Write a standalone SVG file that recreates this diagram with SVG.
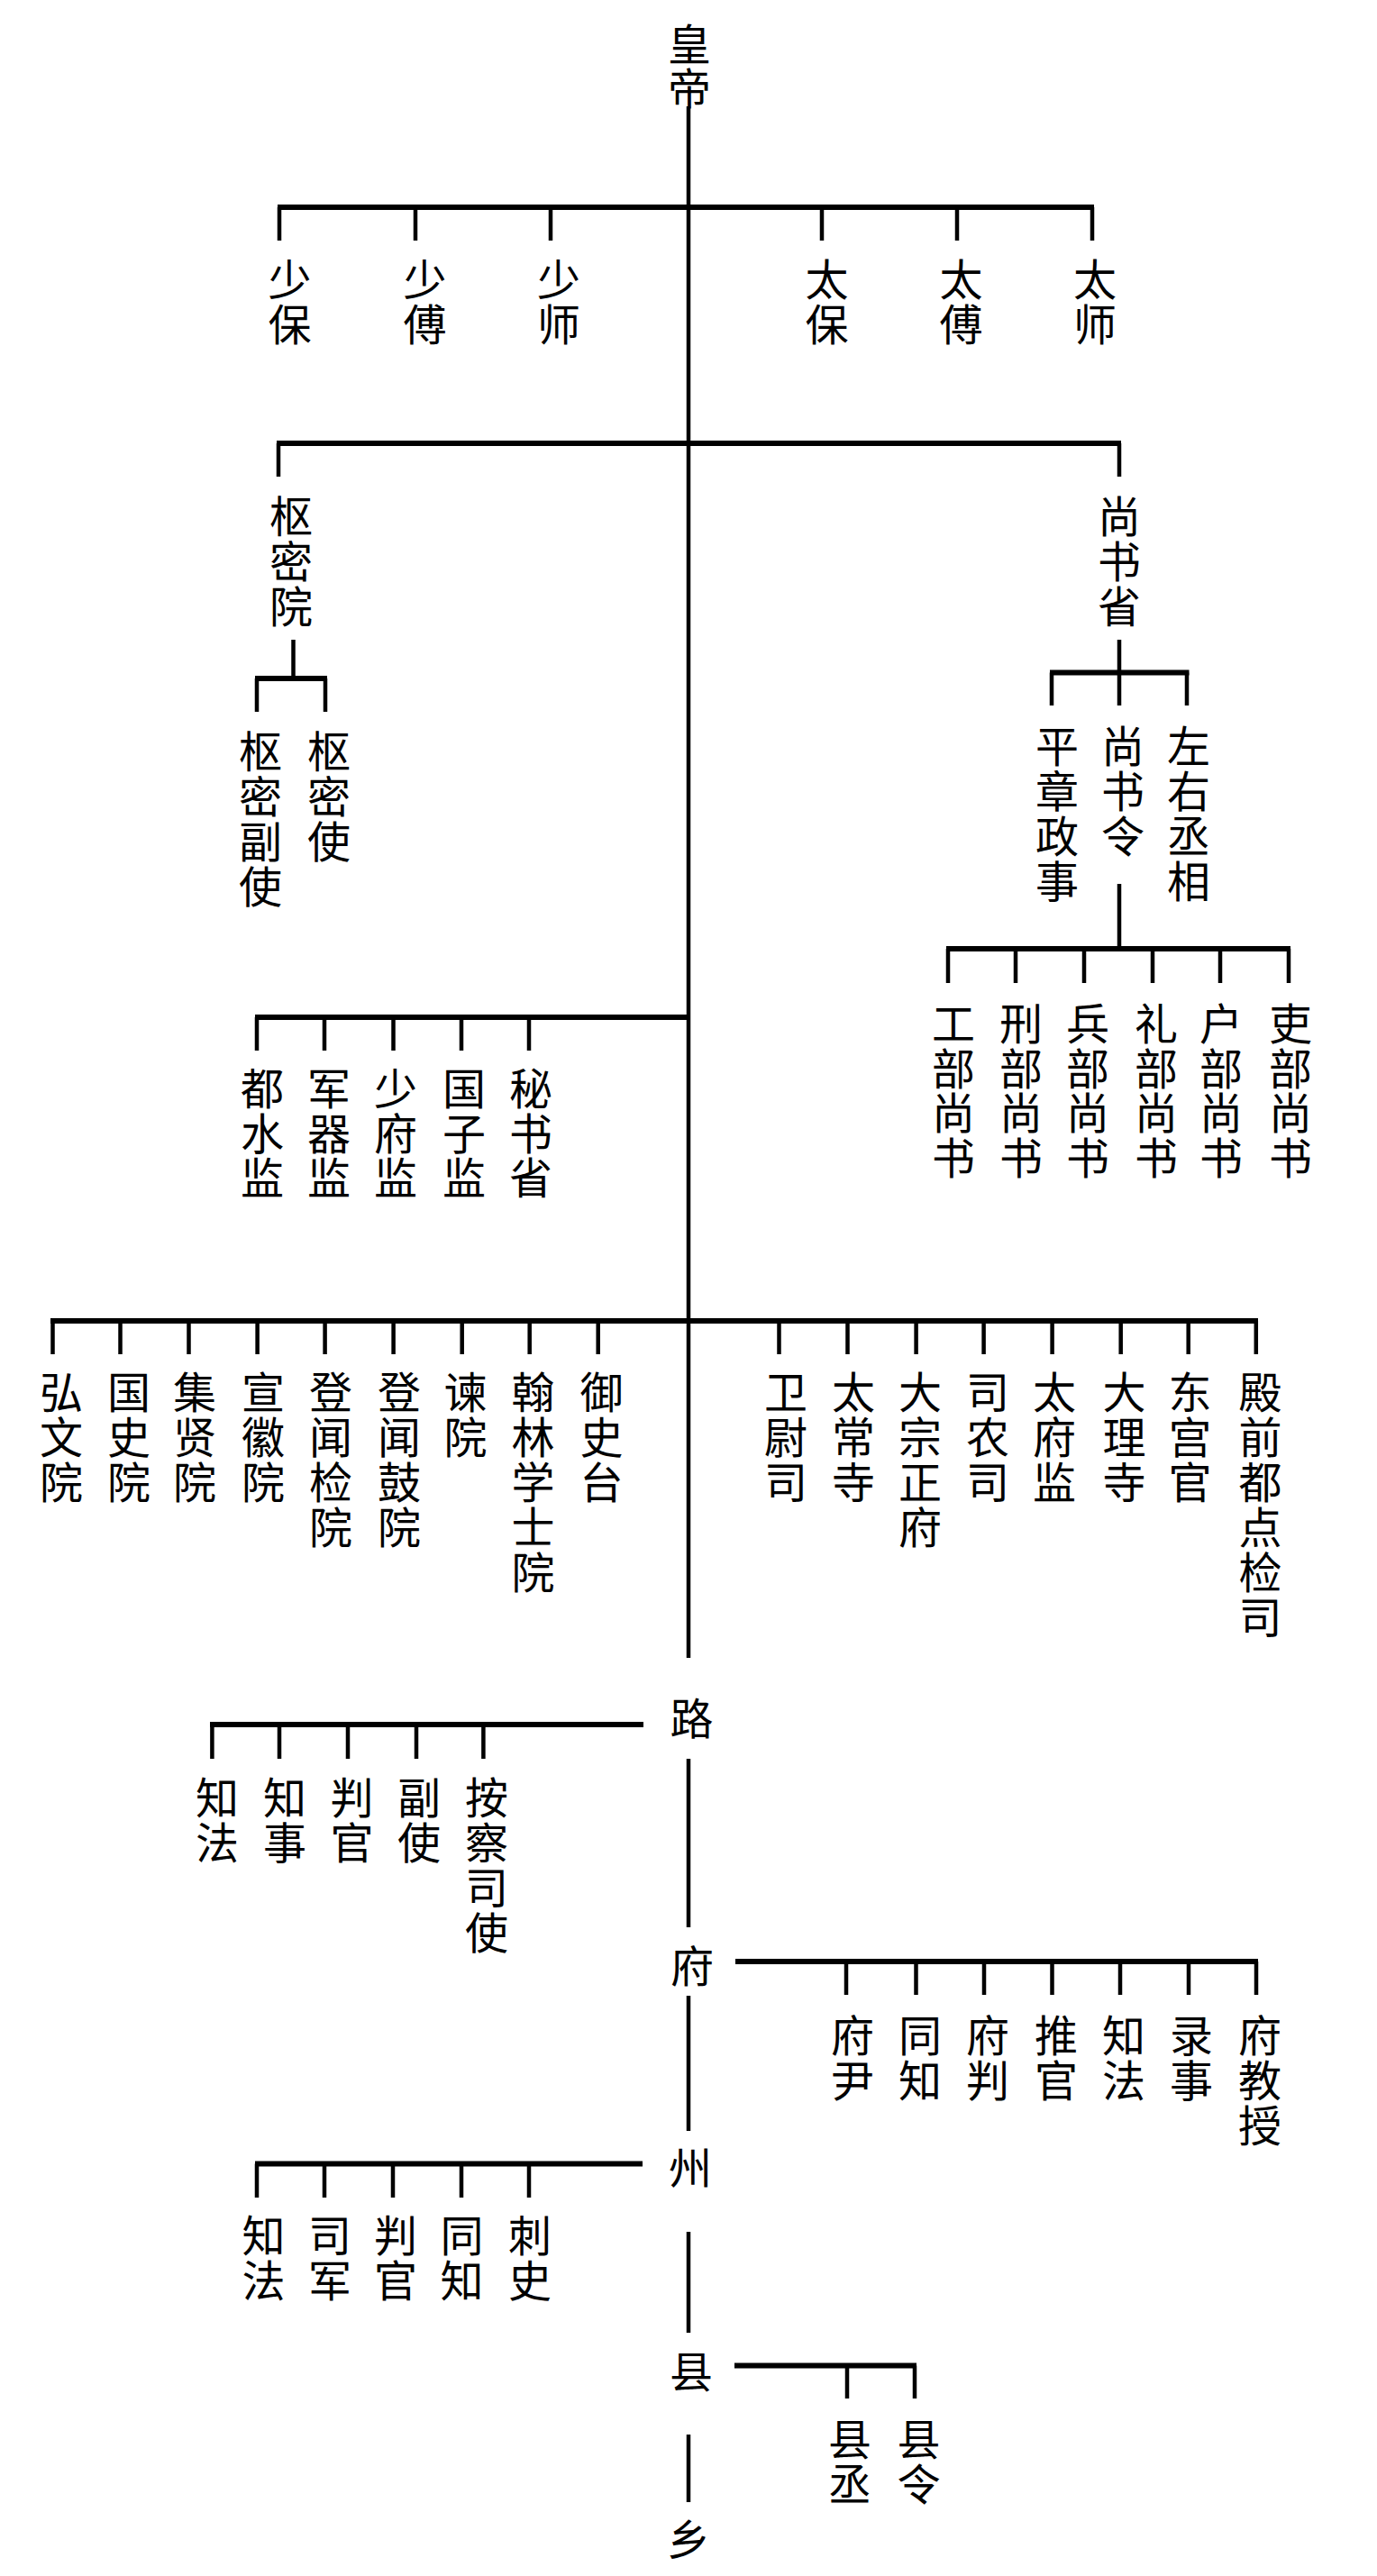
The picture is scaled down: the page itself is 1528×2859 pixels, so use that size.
<svg xmlns="http://www.w3.org/2000/svg" width="1528" height="2859" viewBox="0 0 1528 2859">
<style>
.t{font-family:"Noto Sans CJK SC","Noto Sans CJK TC",sans-serif;font-size:48px;text-anchor:middle;fill:#000}
.v{font-family:"Noto Sans CJK SC","Noto Sans CJK TC",sans-serif;font-size:48px;fill:#000;writing-mode:vertical-rl;text-anchor:start;letter-spacing:2px}
.v1{letter-spacing:1.5px}
.ln{stroke:#000;stroke-width:4.5;fill:none}
.bar{stroke:#000;stroke-width:6;fill:none}
</style>
<rect width="1528" height="2859" fill="#fff"/>
<g id="connectors">
<path class="ln" d="M764 118V1840"/>
<path class="bar" d="M308 230H1214"/>
<path class="ln" d="M310 230V267M461 230V267M611 230V267M912 230V267M1062 230V267M1212 230V267"/>
<path class="bar" d="M307 492H1244"/>
<path class="ln" d="M309 492V529M1242 492V529"/>
<path class="ln" d="M325.5 710V753"/>
<path class="bar" d="M283 753H363"/>
<path class="ln" d="M285 753V790M361 753V790"/>
<path class="ln" d="M1242 710V746.5"/>
<path class="bar" d="M1165 746.5H1319.5"/>
<path class="ln" d="M1167 746.5V783M1242 746.5V783M1317 746.5V783"/>
<path class="ln" d="M1242 981V1053"/>
<path class="bar" d="M1050 1053H1432"/>
<path class="ln" d="M1052 1053V1091M1127 1053V1091M1203 1053V1091M1279 1053V1091M1354 1053V1091M1430 1053V1091"/>
<path class="bar" d="M283 1129H764"/>
<path class="ln" d="M285 1129V1166M360 1129V1166M436.5 1129V1166M512 1129V1166M587 1129V1166"/>
<path class="bar" d="M56 1466H1396"/>
<path class="ln" d="M58.5 1466V1503M133.5 1466V1503M209.5 1466V1503M285.6 1466V1503M360.6 1466V1503M436.6 1466V1503M512.7 1466V1503M587.7 1466V1503M663.7 1466V1503M864.5 1466V1503M940.5 1466V1503M1016.6 1466V1503M1091.6 1466V1503M1167.6 1466V1503M1243.7 1466V1503M1318.7 1466V1503M1393.8 1466V1503"/>
<path class="bar" d="M233 1914H714"/>
<path class="ln" d="M235.4 1914V1952M310 1914V1952M386 1914V1952M462 1914V1952M536.4 1914V1952"/>
<path class="ln" d="M764 1952V2139"/>
<path class="bar" d="M816 2177H1396"/>
<path class="ln" d="M939 2177V2214M1016.5 2177V2214M1092 2177V2214M1167.5 2177V2214M1243 2177V2214M1319 2177V2214M1394 2177V2214"/>
<path class="ln" d="M764 2215V2365"/>
<path class="bar" d="M283 2401.5H713"/>
<path class="ln" d="M285 2401.5V2439M360 2401.5V2439M436 2401.5V2439M512 2401.5V2439M587 2401.5V2439"/>
<path class="ln" d="M764 2477V2589"/>
<path class="bar" d="M815 2625.5H1017"/>
<path class="ln" d="M940 2625.5V2662M1015 2625.5V2662"/>
<path class="ln" d="M764 2702V2777"/>
</g>
<g id="huangdi"><text class="v" style="letter-spacing:1px" x="765" y="24.5">皇帝</text></g>
<g id="shaobao"><text class="v" x="321.5" y="286">少保</text></g>
<g id="shaofu"><text class="v" x="471.5" y="286">少傅</text></g>
<g id="shaoshi"><text class="v" x="620" y="286">少师</text></g>
<g id="taibao"><text class="v" x="917.5" y="286">太保</text></g>
<g id="taifu"><text class="v" x="1066.5" y="286">太傅</text></g>
<g id="taishi"><text class="v" x="1215" y="286">太师</text></g>
<g id="shumiyuan"><text class="v" x="323" y="549">枢密院</text></g>
<g id="shangshusheng"><text class="v" x="1242" y="549">尚书省</text></g>
<g id="shumifushi"><text class="v" x="289" y="810">枢密副使</text></g>
<g id="shumishi"><text class="v" x="365" y="810">枢密使</text></g>
<g id="pingzhangzhengshi"><text class="v" x="1173" y="804">平章政事</text></g>
<g id="shangshuling"><text class="v" x="1246" y="804">尚书令</text></g>
<g id="zuoyouchengxiang"><text class="v" x="1319" y="804">左右丞相</text></g>
<g id="gongbushangshu"><text class="v v1" x="1058" y="1112">工部尚书</text></g>
<g id="xingbushangshu"><text class="v v1" x="1133" y="1112">刑部尚书</text></g>
<g id="bingbushangshu"><text class="v v1" x="1207" y="1112">兵部尚书</text></g>
<g id="libushangshu"><text class="v v1" x="1283" y="1112">礼部尚书</text></g>
<g id="hubushangshu"><text class="v v1" x="1355" y="1112">户部尚书</text></g>
<g id="libushangshu2"><text class="v v1" x="1432" y="1112">吏部尚书</text></g>
<g id="dushuijian"><text class="v v1" x="291" y="1184">都水监</text></g>
<g id="junqijian"><text class="v v1" x="365" y="1184">军器监</text></g>
<g id="shaofujian"><text class="v v1" x="439" y="1184">少府监</text></g>
<g id="guozijian"><text class="v v1" x="515" y="1184">国子监</text></g>
<g id="mishusheng"><text class="v v1" x="589" y="1184">秘书省</text></g>
<g id="hongwenyuan"><text class="v" x="68" y="1521">弘文院</text></g>
<g id="guoshiyuan"><text class="v" x="143" y="1521">国史院</text></g>
<g id="jixianyuan"><text class="v" x="216" y="1521">集贤院</text></g>
<g id="xuanhuiyuan"><text class="v" x="292" y="1521">宣徽院</text></g>
<g id="dengwenjianyuan"><text class="v" x="367" y="1521">登闻检院</text></g>
<g id="dengwenguyuan"><text class="v" x="443" y="1521">登闻鼓院</text></g>
<g id="jianyuan"><text class="v" x="516.5" y="1521">谏院</text></g>
<g id="hanlinxueshiyuan"><text class="v" x="591.6" y="1521">翰林学士院</text></g>
<g id="yushitai"><text class="v" x="667.6" y="1521">御史台</text></g>
<g id="weiweisi"><text class="v" x="872" y="1521">卫尉司</text></g>
<g id="taichangsi"><text class="v" x="947" y="1521">太常寺</text></g>
<g id="dazongzhengfu"><text class="v" x="1021" y="1521">大宗正府</text></g>
<g id="sinongsi"><text class="v" x="1096" y="1521">司农司</text></g>
<g id="taifujian"><text class="v" x="1170" y="1521">太府监</text></g>
<g id="dalisi"><text class="v" x="1247.5" y="1521">大理寺</text></g>
<g id="donggongguan"><text class="v" x="1320.6" y="1521">东宫官</text></g>
<g id="dianqiandudianjiansi"><text class="v" x="1398.6" y="1521">殿前都点检司</text></g>
<g id="lu"><text class="t" x="767.5" y="1925">路</text></g>
<g id="lu-zhifa"><text class="v" x="241" y="1971">知法</text></g>
<g id="lu-zhishi"><text class="v" x="316" y="1971">知事</text></g>
<g id="lu-panguan"><text class="v" x="390.5" y="1971">判官</text></g>
<g id="lu-fushi"><text class="v" x="465" y="1971">副使</text></g>
<g id="lu-anchasishi"><text class="v" x="540" y="1971">按察司使</text></g>
<g id="fu"><text class="t" x="768" y="2200">府</text></g>
<g id="fu-fuyin"><text class="v" x="946" y="2235">府尹</text></g>
<g id="fu-tongzhi"><text class="v" x="1021" y="2235">同知</text></g>
<g id="fu-fupan"><text class="v" x="1096" y="2235">府判</text></g>
<g id="fu-tuiguan"><text class="v" x="1172" y="2235">推官</text></g>
<g id="fu-zhifa"><text class="v" x="1247" y="2235">知法</text></g>
<g id="fu-lushi"><text class="v" x="1322" y="2235">录事</text></g>
<g id="fu-fujiaoshou"><text class="v" x="1398" y="2235">府教授</text></g>
<g id="zhou"><text class="t" x="766" y="2424">州</text></g>
<g id="zhou-zhifa"><text class="v" x="292.5" y="2457">知法</text></g>
<g id="zhou-sijun"><text class="v" x="366" y="2457">司军</text></g>
<g id="zhou-panguan"><text class="v" x="439" y="2457">判官</text></g>
<g id="zhou-tongzhi"><text class="v" x="512.5" y="2457">同知</text></g>
<g id="zhou-cishi"><text class="v" x="588" y="2457">刺史</text></g>
<g id="xian"><text class="t" x="767" y="2650">县</text></g>
<g id="xian-xiancheng"><text class="v" x="943" y="2683">县丞</text></g>
<g id="xian-xianling"><text class="v" x="1019.5" y="2683">县令</text></g>
<g id="xiang"><text class="t" x="764" y="2836">乡</text></g>
</svg>
